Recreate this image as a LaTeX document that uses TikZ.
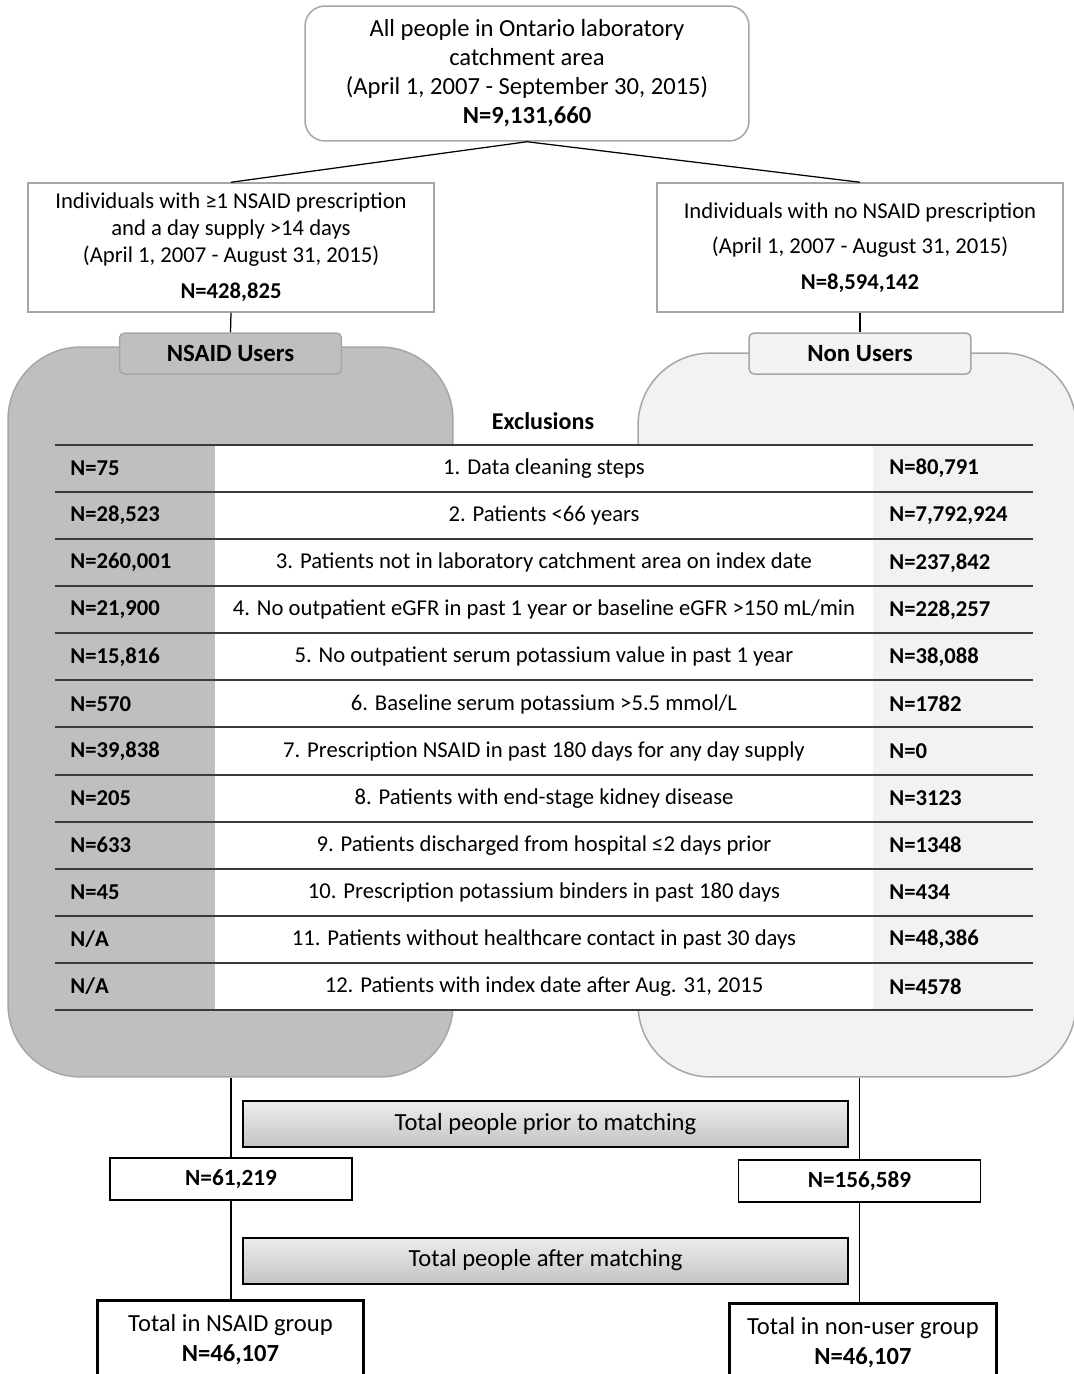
\documentclass[tikz,border=0pt]{standalone}
\usepackage{fontspec}
\setmainfont{Carlito}
\definecolor{bordergray}{HTML}{A6A6A6}
\definecolor{usergray}{HTML}{BFBFBF}
\definecolor{nonuser}{HTML}{F2F2F2}
\definecolor{rulegray}{HTML}{3A3A3A}
\definecolor{bartop}{HTML}{EDEDED}
\definecolor{barbot}{HTML}{C4C4C4}
\tikzset{
  graybox/.style={draw=bordergray, line width=0.03cm, fill=white, align=center, inner sep=0pt},
  tabbox/.style={draw=bordergray, line width=0.03cm, rounded corners=0.1cm, inner sep=0pt,
    minimum width=4.44cm, minimum height=0.82cm, font=\fontsize{14.1pt}{16pt}\selectfont\bfseries},
  bigshape/.style={draw=bordergray, line width=0.03cm, rounded corners=1.45cm, inner sep=0pt},
  blackbox/.style={draw=black, line width=0.03cm, fill=white, inner sep=0pt,
    minimum width=4.84cm, minimum height=0.84cm, font=\fontsize{13.2pt}{15pt}\selectfont\bfseries},
  matchbar/.style={draw=black, line width=0.04cm, top color=bartop, bottom color=barbot, inner sep=0pt,
    minimum width=12.1cm, minimum height=0.92cm, font=\fontsize{14pt}{16pt}\selectfont},
  finalbox/.style={draw=black, line width=0.06cm, fill=white, inner sep=0pt, align=center,
    minimum width=5.34cm, minimum height=1.56cm, font=\fontsize{14pt}{17pt}\selectfont},
  conn/.style={draw=black, line width=0.025cm},
  tablerule/.style={draw=rulegray, line width=0.04cm},
  lcell/.style={anchor=west, inner sep=0pt, font=\fontsize{12.9pt}{15pt}\selectfont\bfseries},
  mcell/.style={anchor=center, inner sep=0pt, font=\fontsize{12.9pt}{15pt}\selectfont},
}
\begin{document}
\begin{tikzpicture}[x=0.02cm, y=-0.02cm]
\useasboundingbox (0,0) rectangle (1074,1374);
\clip (0,0) rectangle (1074,1374);
\fill[white] (0,0) rectangle (1074,1374);

% top box
\node[graybox, rounded corners=0.4cm, minimum width=8.88cm, minimum height=2.7cm,
  font=\fontsize{14pt}{16.5pt}\selectfont] (top) at (527,73.5)
  {All people in Ontario laboratory\\catchment area\\(April 1, 2007 - September 30, 2015)\\\textbf{N=9,131,660}};

% second level
\node[graybox, minimum width=8.12cm, minimum height=2.58cm,
  font=\fontsize{12.9pt}{15.4pt}\selectfont] (lbox) at (231,247.5)
  {Individuals with ≥1 NSAID prescription\\and a day supply >14 days\\(April 1, 2007 - August 31, 2015)\\[0.18cm]\textbf{N=428,825}};
\node[graybox, minimum width=8.12cm, minimum height=2.58cm,
  font=\fontsize{12.9pt}{20.2pt}\selectfont] (rbox) at (860,247.5)
  {Individuals with no NSAID prescription\\(April 1, 2007 - August 31, 2015)\\\textbf{N=8,594,142}};

\draw[conn] (top.south) -- (lbox.north);
\draw[conn] (top.south) -- (rbox.north);

% big shapes
\node[bigshape, fill=usergray, minimum width=8.9cm, minimum height=14.6cm] (lshape) at (230.5,712) {};
\node[bigshape, fill=nonuser, minimum width=8.76cm, minimum height=14.48cm] (rshape) at (857,715) {};

% tabs
\node[tabbox, fill=usergray] (ltab) at (230.5,353.5) {NSAID Users};
\node[tabbox, fill=nonuser] (rtab) at (860,353.5) {Non Users};
\draw[conn] (lbox.south) -- (ltab.north);
\draw[conn] (rbox.south) -- (rtab.north);

% Exclusions
\node[inner sep=0pt, font=\fontsize{13.7pt}{15pt}\selectfont\bfseries] (excl) at (543,421) {Exclusions};

% table
\fill[white] (215,445) rectangle (873,1010);
\foreach \i in {0,...,12} {
  \draw[tablerule] (55,{445+47.08*\i}) -- (1033,{445+47.08*\i});
}
\foreach \i/\l/\m/\r in {
 1/N=75/1. Data cleaning steps/N=80{,}791,
 2/N=28{,}523/2. Patients <66 years/N=7{,}792{,}924,
 3/N=260{,}001/3. Patients not in laboratory catchment area on index date/N=237{,}842,
 4/N=21{,}900/4. No outpatient eGFR in past 1 year or baseline eGFR >150 mL\slash min/N=228{,}257,
 5/N=15{,}816/5. No outpatient serum potassium value in past 1 year/N=38{,}088,
 6/N=570/6. Baseline serum potassium >5.5 mmol\slash L/N=1782,
 7/N=39{,}838/7. Prescription NSAID in past 180 days for any day supply/N=0,
 8/N=205/8. Patients with end-stage kidney disease/N=3123,
 9/N=633/9. Patients discharged from hospital ≤2 days prior/N=1348,
 10/N=45/10. Prescription potassium binders in past 180 days/N=434,
 11/N\slash A/11. Patients without healthcare contact in past 30 days/N=48{,}386,
 12/N\slash A/12. Patients with index date after Aug. 31{,} 2015/N=4578} {
  \node[lcell] (l\i) at (70,{445+47.08*\i-23.5}) {\l};
  \node[mcell] (m\i) at (544,{445+47.08*\i-23.5}) {\m};
  \node[lcell] (r\i) at (889,{445+47.08*\i-23.5}) {\r};
}

% matching section
\node[matchbar] (prior) at (545.5,1124) {Total people prior to matching};
\node[blackbox] (nl) at (231,1179) {N=61,219};
\node[blackbox] (nr) at (859.5,1181) {N=156,589};
\node[matchbar] (after) at (545.5,1260.5) {Total people after matching};
\node[finalbox, anchor=north] (fl) at (230.5,1299) {Total in NSAID group\\\textbf{N=46,107}};
\node[finalbox, anchor=north] (fr) at (863,1302) {Total in non-user group\\\textbf{N=46,107}};

\draw[conn] (nl.north) -- (nl.north |- lshape.south);
\draw[conn] (nr.north) -- (nr.north |- rshape.south);
\draw[conn] (nl.south) -- (nl.south |- fl.north);
\draw[conn] (nr.south) -- (nr.south |- fr.north);
\end{tikzpicture}
\end{document}
